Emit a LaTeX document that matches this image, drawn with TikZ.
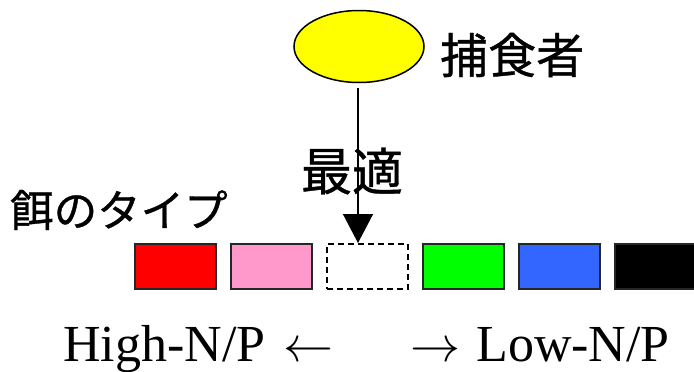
\RequirePackage{fix-cm}
\documentclass[tikz,border=0pt]{standalone}
\usepackage{fontspec}
\setmainfont{Liberation Serif}
\newfontfamily\jp[FakeBold=0.8]{Noto Sans CJK JP}
\usetikzlibrary{arrows.meta,shapes.geometric}
\definecolor{mypink}{HTML}{FF99CC}
\definecolor{myblue}{HTML}{3366FF}
\definecolor{mygreen}{HTML}{00FF00}
\definecolor{myred}{HTML}{FF0000}
\definecolor{myyellow}{HTML}{FFFF00}
\newcommand{\myarr}[1]{{\fontsize{50}{50}\selectfont$#1$}}
\begin{document}
\begin{tikzpicture}[x=1pt,y=-1pt,
  foodbox/.style={draw=black!85,line width=1.5pt,minimum width=81pt,minimum height=45pt,inner sep=0pt,anchor=north west},
  jptext/.style={font=\jp\fontsize{48}{48}\selectfont,inner sep=0pt},
  entext/.style={font=\fontsize{52}{52}\selectfont,inner sep=0pt}]
\useasboundingbox (0,0) rectangle (694,372);
\node[draw=black,line width=1.5pt,fill=myyellow,ellipse,minimum width=130pt,minimum height=72pt,inner sep=0pt] (pred) at (359,46.5) {};
\node[jptext,anchor=west] (predlbl) at (440,55) {捕食者};
\node[jptext,font=\jp\fontsize{51}{51}\selectfont] (opt) at (352,171) {最適};
\node[jptext,font=\jp\fontsize{43.5}{43.5}\selectfont,anchor=west] (type) at (10,210) {餌のタイプ};
\node[foodbox,fill=myred] (b1) at (134,243) {};
\node[foodbox,fill=mypink] (b2) at (230,243) {};
\node[foodbox,draw=black,dash pattern=on 6pt off 4pt] (b3) at (326,243) {};
\node[foodbox,fill=mygreen] (b4) at (422,243) {};
\node[foodbox,fill=myblue] (b5) at (518,243) {};
\node[foodbox,fill=black] (b6) at (614,243) {};
\coordinate (start) at (358,88);
\draw[line width=1.5pt,-{Triangle[width=30pt,length=29pt]}] (start) -- (b3.north -| start);
\node[entext,anchor=base west] (hi) at (63,361) {High-N/P\hspace{0.35em}\myarr{\leftarrow}};
\node[entext,anchor=base east] (lo) at (670,361) {\myarr{\rightarrow}\hspace{0.3em}Low-N/P};
\end{tikzpicture}
\end{document}
